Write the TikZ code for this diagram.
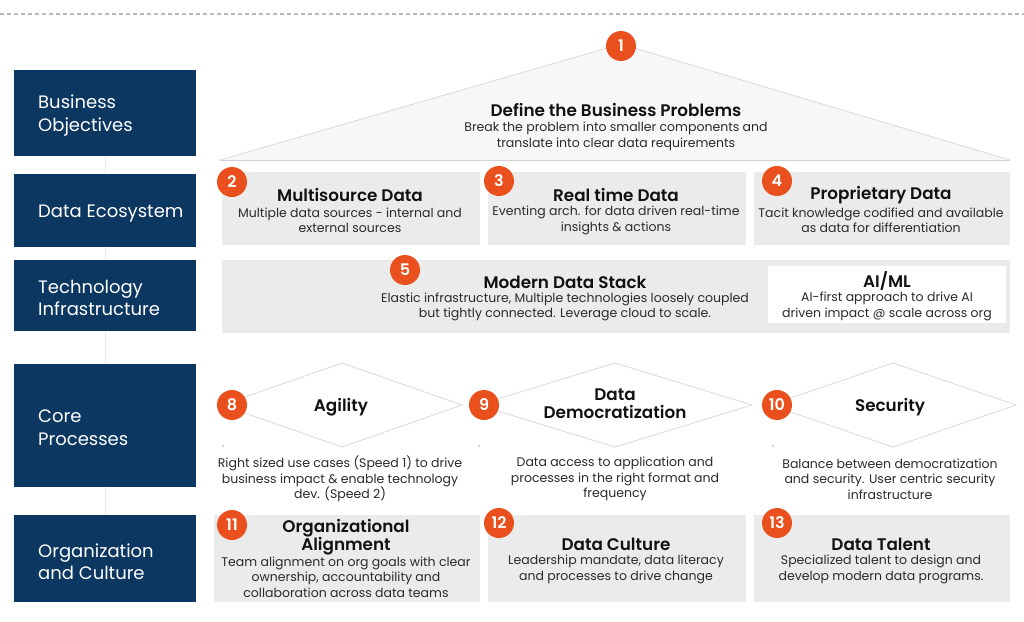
\documentclass[tikz,border=0pt]{standalone}
\usepackage{fontspec}
\setmainfont{Poppins}[BoldFont={Poppins SemiBold}]
\definecolor{navy}{HTML}{0C3761}
\definecolor{orng}{HTML}{E9501D}
\definecolor{boxg}{HTML}{EBEBEB}
\definecolor{trig}{HTML}{F7F7F7}
\definecolor{edgeg}{HTML}{DADADA}
\definecolor{txt}{HTML}{111111}
\definecolor{bodyc}{HTML}{2A2A2A}
\tikzset{
  navybox/.style={fill=navy, draw=none},
  graybox/.style={fill=boxg, draw=none},
  num/.style={circle, fill=orng, minimum size=30pt, inner sep=0pt, text=white, font=\fontsize{16}{16}\selectfont\bfseries},
  ttl/.style={text=txt, font=\fontsize{16.8}{18}\selectfont\bfseries, align=center, inner sep=0pt},
  bdy/.style={text=bodyc, font=\fontsize{12.5}{15.5}\selectfont, align=center, inner sep=0pt},
  lbl/.style={text=white, font=\fontsize{18}{22.5}\selectfont, align=left, anchor=west, inner sep=0pt},
  dia/.style={fill=white, draw=edgeg, line width=0.8pt},
}
\begin{document}
\begin{tikzpicture}[x=1pt,y=-1pt]
\useasboundingbox (0,0) rectangle (1024,621);
\fill[white] (0,0) rectangle (1024,621);
% dashed top line
\draw[color=black!28, line width=1.6pt, dash pattern=on 4pt off 3pt] (0,14) -- (1024,14);
% faint vertical spine
\draw[color=black!8, line width=0.8pt] (105,156) -- (105,515);
% left labels
\fill[navybox] (14,70) rectangle (196,156);
\fill[navybox] (14,174) rectangle (196,247);
\fill[navybox] (14,260) rectangle (196,331);
\fill[navybox] (14,364) rectangle (196,487);
\fill[navybox] (14,515) rectangle (196,602);
\node[lbl] (l1) at (38,115.5) {Business\\Objectives};
\node[lbl] (l2) at (38,213.5) {Data Ecosystem};
\node[lbl] (l3) at (38,298) {Technology\\Infrastructure};
\node[lbl] (l4) at (38,427.5) {Core\\Processes};
\node[lbl] (l5) at (38,561.5) {Organization\\and Culture};
% triangle
\filldraw[fill=trig, draw=edgeg, line width=0.8pt] (220,160) -- (621,44) -- (1010,160);
\draw[color=black!18, line width=1pt] (220,160) -- (1010,160);
\node[ttl] (t1) at (616,109.5) {Define the Business Problems};
\node[bdy] (b1) at (616,136.5) {Break the problem into smaller components and\\translate into clear data requirements};
% row 2
\fill[graybox] (222,172) rectangle (480,245);
\fill[graybox] (488,172) rectangle (746,245);
\fill[graybox] (754,172) rectangle (1010,245);
\node[ttl] (t2) at (350,195) {Multisource Data};
\node[bdy] (b2) at (350,220.5) {Multiple data sources - internal and\\external sources};
\node[ttl] (t3) at (616,195) {Real time Data};
\node[bdy] (b3) at (616,220.5) {Eventing arch. for data driven real-time\\insights \& actions};
\node[ttl] (t4) at (881,195) {Proprietary Data};
\node[bdy] (b4) at (881,220.5) {Tacit knowledge codified and available\\as data for differentiation};
% row 3
\fill[graybox] (222,260) rectangle (1010,333);
\fill[white] (768,266) rectangle (1006,323);
\node[ttl] (t5) at (565,282) {Modern Data Stack};
\node[bdy] (b5) at (565,307) {Elastic infrastructure, Multiple technologies loosely coupled\\but tightly connected. Leverage cloud to scale.};
\node[ttl] (t6) at (887,281) {AI/ML};
\node[bdy] (b6) at (887,306.5) {AI-first approach to drive AI\\driven impact @ scale across org};
% diamonds
\filldraw[dia] (222,405) -- (342,363) -- (462,405) -- (342,447) -- cycle;
\filldraw[dia] (478,405) -- (615,363) -- (752,405) -- (615,447) -- cycle;
\filldraw[dia] (770,405) -- (893,363) -- (1016,405) -- (893,447) -- cycle;
\fill[black!35] (223,446) circle (0.8);
\fill[black!35] (479,446) circle (0.8);
\fill[black!35] (773,446) circle (0.8);
\node[ttl] (t8) at (341,407) {Agility};
\node[ttl] (t9) at (615,404) {Data\\Democratization};
\node[ttl] (t10) at (890,407) {Security};
\node[bdy] (b8) at (340,479) {Right sized use cases (Speed 1) to drive\\business impact \& enable technology\\dev. (Speed 2)};
\node[bdy] (b9) at (615,479) {Data access to application and\\processes in the right format and\\frequency};
\node[bdy] (b10) at (890,479) {Balance between democratization\\and security. User centric security\\infrastructure};
% row 5
\fill[graybox] (214,515) rectangle (480,602);
\fill[graybox] (488,515) rectangle (746,602);
\fill[graybox] (754,515) rectangle (1010,602);
\node[ttl] (t11) at (346,537) {Organizational\\Alignment};
\node[bdy] (b11) at (346,577) {Team alignment on org goals with clear\\ownership, accountability and\\collaboration across data teams};
\node[ttl] (t12) at (616,544.5) {Data Culture};
\node[bdy] (b12) at (616,569.5) {Leadership mandate, data literacy\\and processes to drive change};
\node[ttl] (t13) at (881,544.5) {Data Talent};
\node[bdy] (b13) at (881,569.5) {Specialized talent to design and\\develop modern data programs.};
% number badges
\node[num] (n1) at (621,46) {1};
\node[num] (n2) at (232,182) {2};
\node[num] (n3) at (499,181) {3};
\node[num] (n4) at (777,181) {4};
\node[num] (n5) at (405,270) {5};
\node[num] (n8) at (232,405) {8};
\node[num] (n9) at (484,405) {9};
\node[num] (n10) at (777,405) {10};
\node[num] (n11) at (232,525) {11};
\node[num] (n12) at (499,523) {12};
\node[num] (n13) at (777,523) {13};
\end{tikzpicture}
\end{document}
